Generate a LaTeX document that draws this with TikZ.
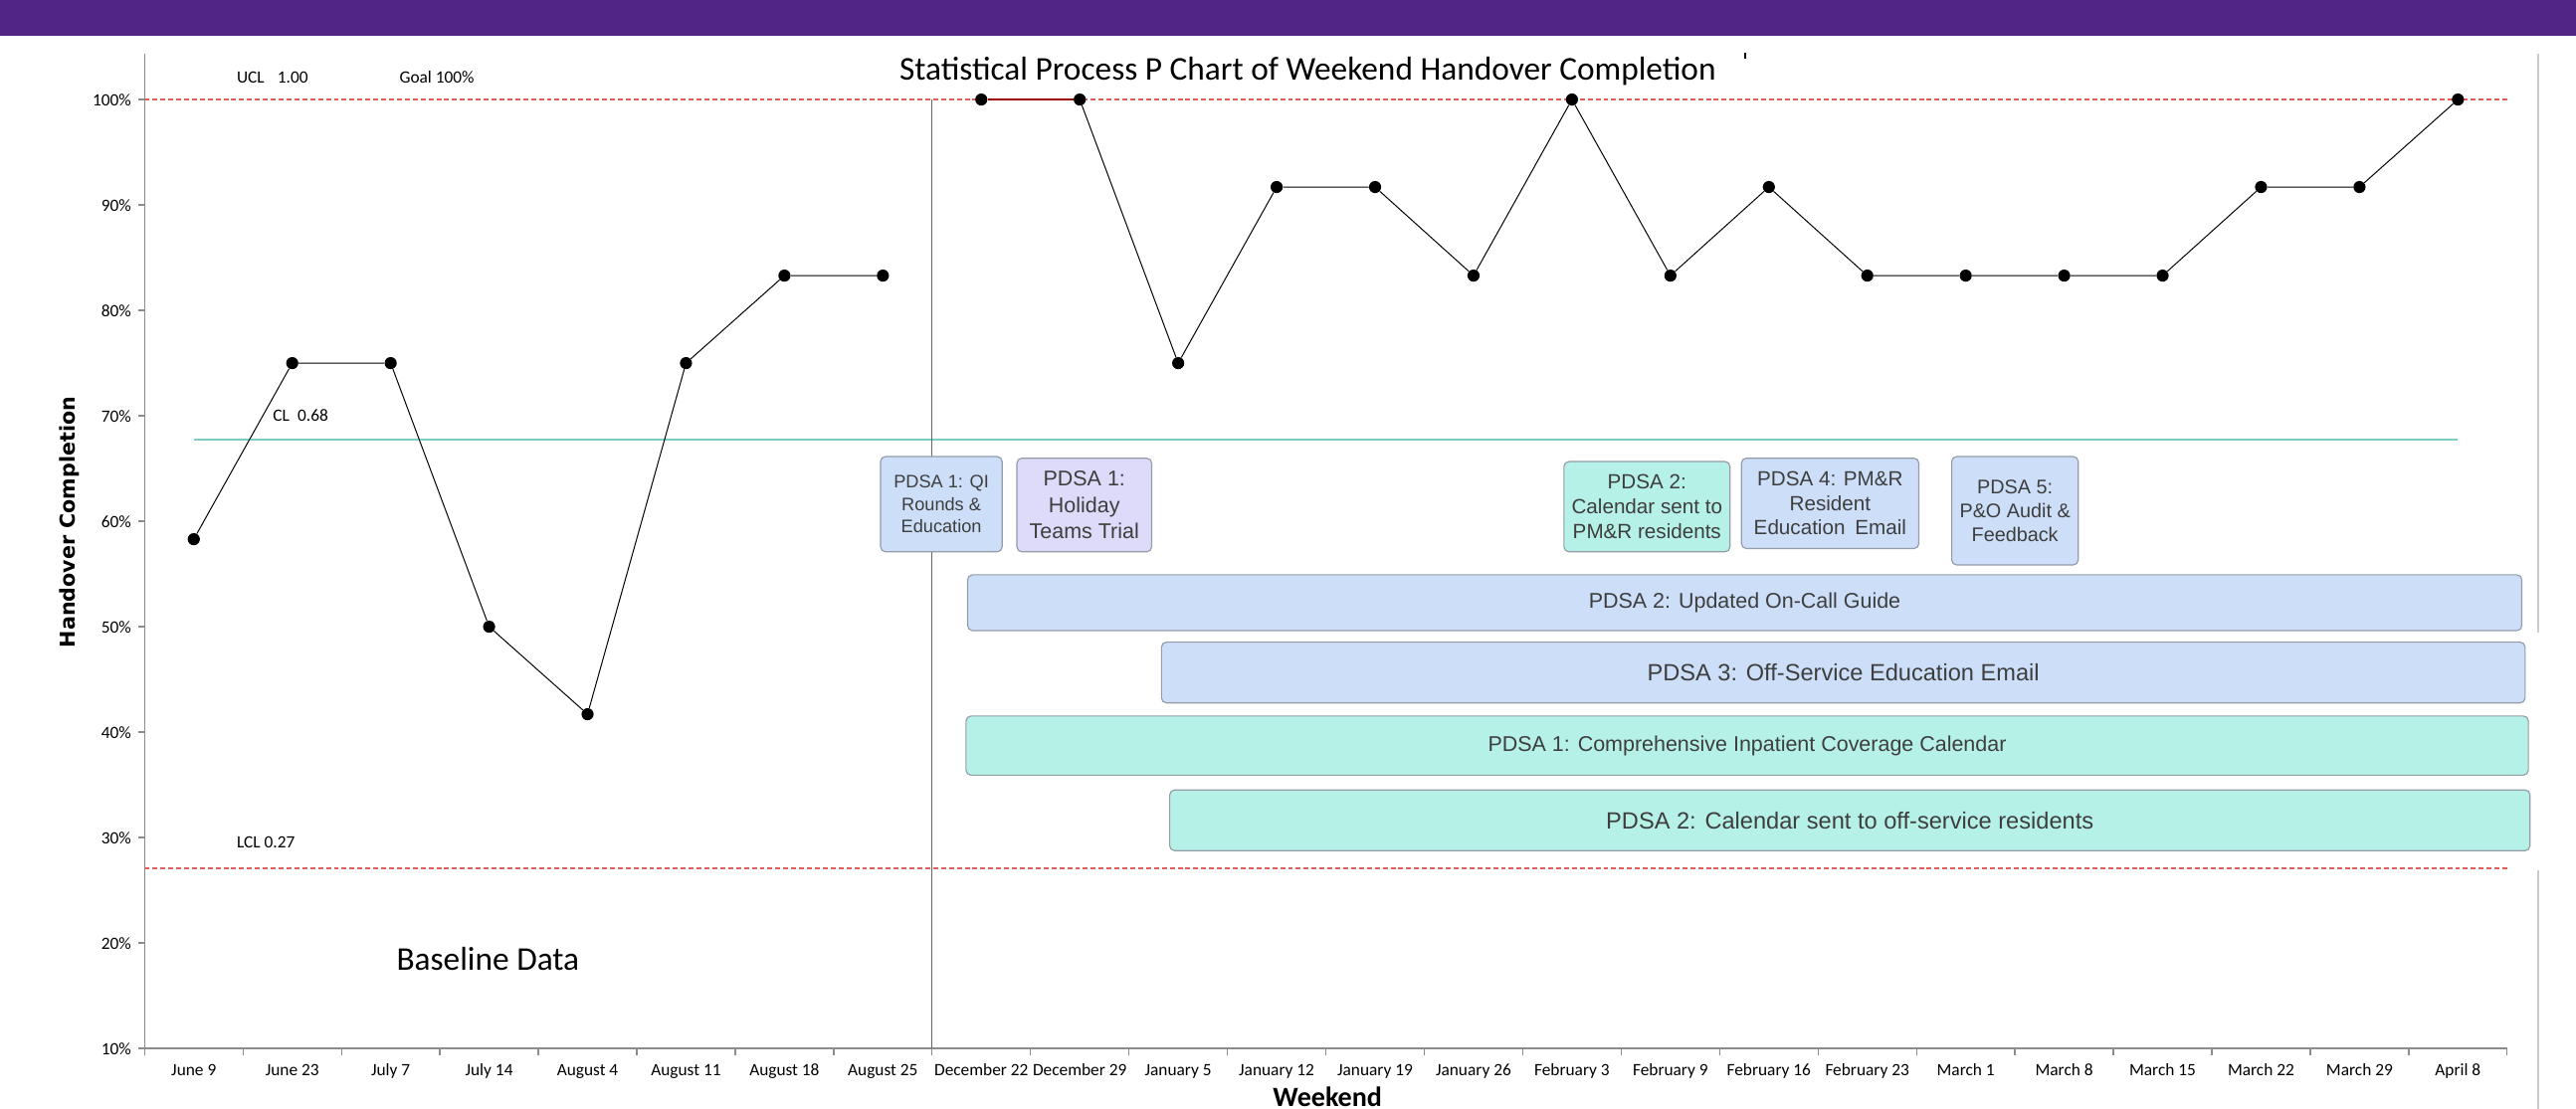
\documentclass[tikz,border=0pt]{standalone}
\usepackage{fontspec}
\setmainfont{Carlito}
\newfontfamily\boxfont{Liberation Sans}
\newfontfamily\ytitlefont{DejaVu Sans}
\usetikzlibrary{positioning}

\definecolor{topband}{RGB}{81,37,131}
\definecolor{limitred}{RGB}{226,92,92}
\definecolor{clteal}{RGB}{122,206,199}
\definecolor{pdsablue}{RGB}{205,222,249}
\definecolor{pdsalilac}{RGB}{221,219,249}
\definecolor{pdsamint}{RGB}{182,241,232}
\definecolor{boxedge}{RGB}{148,156,168}
\definecolor{boxtext}{RGB}{62,62,62}
\definecolor{axisgray}{RGB}{140,140,140}

\begin{document}
\begin{tikzpicture}[x=1pt,y=-1pt]
	\tikzstyle{ticklab}=[font=\fontsize{10.5}{12}\selectfont, inner sep=0pt]
	\tikzstyle{limlab}=[font=\fontsize{10.5}{12}\selectfont, inner sep=0pt, anchor=base west]
	\tikzstyle{dot}=[circle, fill=black, minimum size=7.4pt, inner sep=0pt]
	\tikzstyle{limit}=[limitred, line width=0.8pt, dash pattern=on 3pt off 1.8pt]
	\tikzstyle{axisline}=[axisgray, line width=0.8pt]
	\tikzstyle{pdsabox}=[rectangle, rounded corners=3pt, draw=boxedge, line width=0.7pt, text=boxtext, align=center, inner sep=0pt]
	\useasboundingbox (0,0) rectangle (1568,675);
	\clip (0,0) rectangle (1568,675);
	\fill[topband] (0,0) rectangle (1568,22);
	\draw[black!20, line width=1pt] (1545,33) -- (1545,385);
	\draw[black!20, line width=1pt] (1545,530) -- (1545,675);
	
	% chart: x = week number, y = percent
	\begin{scope}[shift={(88,702.6)}, x=59.92pt, y=6.42pt]
		\draw[limit] (0,100) -- (24,100);
		\draw[limit] (0,27.1) -- (24,27.1);
		\draw[clteal, line width=1.2pt] (0.5,67.7) -- (23.5,67.7);
		\draw[axisline] (0,104.3) -- (0,10) -- (24,10);
		\foreach \p in {10,20,...,100} {
			\draw[axisline] (0,\p) -- ++(-4pt,0pt);
			\node[ticklab, anchor=base east] (y\p) at ([xshift=-8pt, yshift=-3.7pt]0,\p) {\p\%};
		}
		\foreach \k in {0,...,24}
			\draw[axisline] (\k,10) -- ++(0pt,-4pt);
		\draw[black!60, line width=0.8pt] (8,100) -- (8,10);
		
		\foreach \v [count=\i] in {58.3,75,75,50,41.7,75,83.3,83.3,100,100,75,91.7,91.7,83.3,100,83.3,91.7,83.3,83.3,83.3,83.3,91.7,91.7,100}
			\node[dot] (w\i) at (\i-0.5,\v) {};
		\begin{scope}[line width=0.6pt]
			\draw (w1) -- (w2) -- (w3) -- (w4) -- (w5) -- (w6) -- (w7) -- (w8);
			\draw (w10) -- (w11) -- (w12) -- (w13) -- (w14) -- (w15) -- (w16) -- (w17) -- (w18) -- (w19) -- (w20) -- (w21) -- (w22) -- (w23) -- (w24);
			\draw[red!60!black, line width=1pt] (w9) -- (w10);
		\end{scope}
		
		\foreach \lab [count=\i] in {June 9, June 23, July 7, July 14, August 4, August 11, August 18, August 25, December 22, December 29, January 5, January 12, January 19, January 26, February 3, February 9, February 16, February 23, March 1, March 8, March 15, March 22, March 29, April 8}
			\node[ticklab, anchor=base] (c\i) at ([yshift=-16.5pt]\i-0.5,10) {\lab};
	\end{scope}
	
	\node[limlab] (ucl) at (144,50.5) {UCL\hspace{8pt}1.00};
	\node[limlab] (goal) at (243,50.5) {Goal 100\%};
	\node[limlab] (cl) at (166,256.5) {CL\hspace{5pt}0.68};
	\node[limlab] (lcl) at (144,516.5) {LCL 0.27};
	
	\node[anchor=base, font=\fontsize{20.2}{24}\selectfont, inner sep=0pt] (title) at (796,48.5) {Statistical Process P Chart of Weekend Handover Completion};
	\draw[line width=1.2pt] (1062,32) -- (1062,36);
	\node[anchor=base, font=\fontsize{20.2}{24}\selectfont, inner sep=0pt] (base) at (297,590.5) {Baseline Data};
	\node[anchor=base, font=\bfseries\fontsize{17}{20}\selectfont, inner sep=0pt] (xtitle) at (808,673.5) {Weekend};
	\node[rotate=90, font=\ytitlefont\bfseries\fontsize{12.5}{15}\selectfont, inner sep=0pt] (ytitle) at (42,318) {Handover Completion};
	
	% PDSA cycles
	\node[pdsabox, fill=pdsablue, minimum width=74pt, minimum height=58pt, font=\boxfont\fontsize{11}{13.5}\selectfont] (qi) at (573,307) {PDSA 1: QI\\Rounds \&\\Education};
	\node[pdsabox, fill=pdsalilac, minimum width=82pt, minimum height=57pt, font=\boxfont\fontsize{13}{16}\selectfont] (holiday) at (660,307.5) {PDSA 1:\\Holiday\\Teams Trial};
	\node[pdsabox, fill=pdsamint, minimum width=101pt, minimum height=55pt, font=\boxfont\fontsize{12.5}{15}\selectfont] (pmr) at (1002.5,308.5) {PDSA 2:\\Calendar sent to\\PM\&R residents};
	\node[pdsabox, fill=pdsablue, minimum width=108pt, minimum height=55pt, font=\boxfont\fontsize{12.5}{15}\selectfont] (resemail) at (1114,306.5) {PDSA 4: PM\&R\\Resident\\Education\hspace{6pt}Email};
	\node[pdsabox, fill=pdsablue, minimum width=77pt, minimum height=66pt, font=\boxfont\fontsize{12}{14.5}\selectfont] (audit) at (1226.5,311) {PDSA 5:\\P\&O Audit \&\\Feedback};
	
	\node[pdsabox, fill=pdsablue, minimum width=946pt, minimum height=34pt, font=\boxfont\fontsize{13}{15}\selectfont] (guide) at (1062,367) {PDSA 2: Updated On-Call Guide};
	\node[pdsabox, fill=pdsablue, minimum width=830pt, minimum height=37pt, font=\boxfont\fontsize{14.3}{16}\selectfont] (offemail) at (1122,409.5) {PDSA 3: Off-Service Education Email};
	\node[pdsabox, fill=pdsamint, minimum width=951pt, minimum height=36pt, font=\boxfont\fontsize{13}{15}\selectfont] (coverage) at (1063.5,454) {PDSA 1: Comprehensive Inpatient Coverage Calendar};
	\node[pdsabox, fill=pdsamint, minimum width=828pt, minimum height=37pt, font=\boxfont\fontsize{14.3}{16}\selectfont] (offcal) at (1126,499.5) {PDSA 2: Calendar sent to off-service residents};
\end{tikzpicture}
\end{document}
